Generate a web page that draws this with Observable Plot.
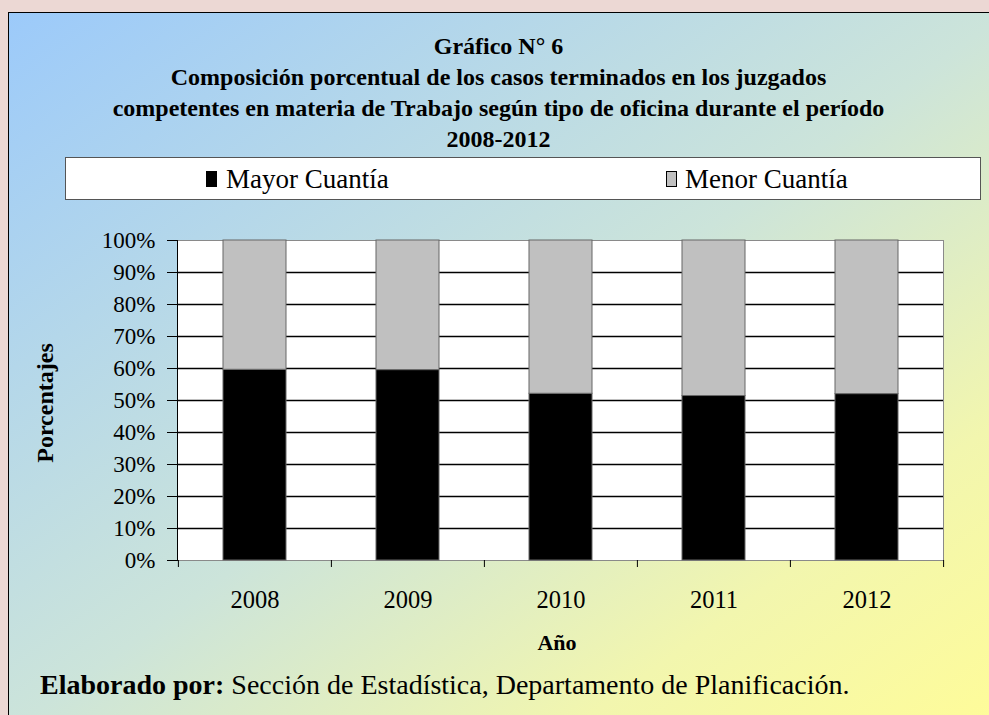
<!DOCTYPE html>
<html><head><meta charset="utf-8">
<script src="https://cdn.jsdelivr.net/npm/d3@7"></script>
<script src="https://cdn.jsdelivr.net/npm/@observablehq/plot@0.6"></script>
<style>
html,body{margin:0;padding:0;}
body{width:989px;height:715px;overflow:hidden;background:#ecd8d4;position:relative;font-family:"Liberation Serif","Times New Roman",serif;color:#000;}
.abs{position:absolute;white-space:nowrap;}
#frame{left:8px;top:12px;width:1000px;height:720px;border:1px solid #000;box-sizing:border-box;background:linear-gradient(to bottom right,#9ccafa 0%,#b4d7ea 25%,#cce4da 50%,#f2f6ae 78%,#fffc98 100%);}
#title{left:8px;top:31px;width:981px;text-align:center;font-weight:bold;font-size:24px;line-height:31px;}
#legend{left:65px;top:157px;width:916px;height:43px;box-sizing:border-box;background:#fff;border:1px solid #555;}
.sq{width:11px;height:16px;box-sizing:border-box;border:1px solid #000;}
.lt{font-size:27px;line-height:30px;}
#ylab{left:45px;top:403px;transform:translate(-50%,-50%) rotate(-90deg);font-weight:bold;font-size:24px;}
#xlab{left:557px;top:643px;transform:translate(-50%,-50%);font-weight:bold;font-size:22px;}
#caption{left:40px;top:670px;font-size:28px;line-height:30px;}
#chart{left:0;top:220px;}
</style></head>
<body>
<div id="frame" class="abs"></div>
<div id="title" class="abs">Gráfico N° 6<br>Composición porcentual de los casos terminados en los juzgados<br>competentes en materia de Trabajo según tipo de oficina durante el período<br>2008-2012</div>
<div id="legend" class="abs"></div>
<div class="abs sq" style="left:206px;top:171px;background:#000;"></div>
<div class="abs lt" style="left:226px;top:164px;" id="leg1"></div>
<div class="abs sq" style="left:666px;top:171px;background:#c0c0c0;"></div>
<div class="abs lt" style="left:685px;top:164px;" id="leg2"></div>
<div id="ylab" class="abs">Porcentajes</div>
<div id="xlab" class="abs">Año</div>
<div id="caption" class="abs"><b>Elaborado por:</b> Sección de Estadística, Departamento de Planificación.</div>
<div id="chart" class="abs"></div>
<script>
const years = ["2008", "2009", "2010", "2011", "2012"];
const mayorCuantia = [59.6, 59.5, 52.1, 51.4, 52.0];
const menorCuantia = [40.4, 40.5, 47.9, 48.6, 48.0];
const seriesNames = ["Mayor Cuantía", "Menor Cuantía"];
const seriesColors = ["#000000", "#c0c0c0"];
const yTicks = [0, 10, 20, 30, 40, 50, 60, 70, 80, 90, 100];

document.getElementById("leg1").textContent = seriesNames[0];
document.getElementById("leg2").textContent = seriesNames[1];

const data = years.flatMap((y, i) => [
  {year: y, series: seriesNames[0], value: mayorCuantia[i]},
  {year: y, series: seriesNames[1], value: menorCuantia[i]}
]);

const W = 989, H = 420, mL = 177, mR = 46, mT = 20, mB = 80;
const bw = (W - mL - mR) / years.length;

const chart = Plot.plot({
  width: W, height: H,
  marginLeft: mL, marginRight: mR, marginTop: mT, marginBottom: mB,
  style: {background: "transparent", fontFamily: "'Liberation Serif', serif", fontSize: "23px", color: "#000"},
  x: {domain: years, padding: 0, label: null, axis: null},
  y: {domain: [0, 100], label: null, axis: null},
  color: {domain: seriesNames, range: seriesColors},
  marks: [
    Plot.frame({fill: "#fff", stroke: "#8a8a8a"}),
    Plot.ruleY(yTicks.filter(t => t > 0 && t < 100), {stroke: "#000", strokeWidth: 1.3}),
    Plot.barY(data, Plot.stackY({x: "year", y: "value", fill: "series", order: seriesNames,
      insetLeft: 45, insetRight: 45, stroke: "#666", strokeWidth: 1})),
    Plot.frame({anchor: "left", stroke: "#000"}),
    Plot.axisY({ticks: yTicks, tickSize: 10, tickPadding: 12, tickFormat: d => d + "%", fontSize: 23, label: null}),
    Plot.axisX({tickSize: 0, tickPadding: 30, fontSize: 24.5, label: null}),
    Plot.axisX({tickSize: 7, tickFormat: null, dx: -bw / 2, label: null}),
    Plot.axisX({ticks: [years[years.length - 1]], tickSize: 7, tickFormat: null, dx: bw / 2, label: null})
  ]
});
document.getElementById("chart").appendChild(chart);
</script>
</body></html>
